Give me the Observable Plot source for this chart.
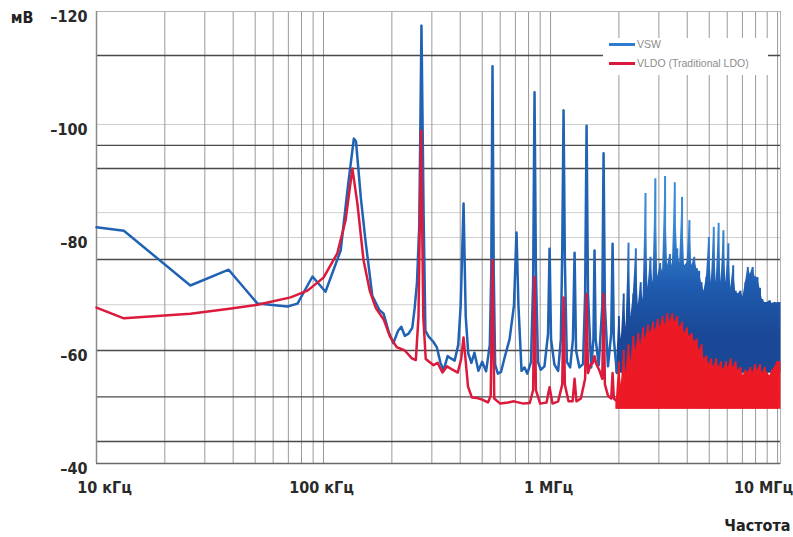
<!DOCTYPE html>
<html><head><meta charset="utf-8">
<script src="https://cdn.jsdelivr.net/npm/d3@7"></script>
<script src="https://cdn.jsdelivr.net/npm/@observablehq/plot@0.6"></script>
<style>
body{margin:0;background:#fff;}
#wrap{position:relative;width:793px;height:537px;overflow:hidden;}
#wrap svg text{font-stretch:condensed;}
#legend{position:absolute;left:603px;top:38px;width:165px;height:37px;background:#fff;font-family:"Liberation Sans",Arial,sans-serif;font-size:10.5px;color:#8c8c8c;}
#legend .ln{position:absolute;left:6px;width:26px;height:2.5px;}
#legend .tx{position:absolute;left:34px;line-height:12px;white-space:nowrap;}
</style></head><body>
<div id="wrap">
<div id="legend">
<div class="ln" style="top:5px;background:#2f7bd0"></div><div class="tx" style="top:0px">VSW</div>
<div class="ln" style="top:24px;background:#d8183c"></div><div class="tx" style="top:19px">VLDO (Traditional LDO)</div>
</div>
</div>
<script>
// ticks (frequency in kHz, level in мВ units as labelled)
const xTickValues = [10, 100, 1000, 10000];
const xTickLabels = ["10 кГц", "100 кГц", "1 МГц", "10 МГц"];
const yTickValues = [-120, -100, -80, -60, -40];
const gridFreqs = [20,30,40,50,60,70,80,90,100,200,300,400,500,600,700,800,900,1000,2000,3000,4000,5000,6000,7000,8000,9000,10000];
const gridDark = [-112.2, -96.3, -92.2, -76.1, -60, -51.8, -43.9];
const gridLight = [-100, -84.4, -80, -68.1];

// VSW (blue) trace up to ~2 MHz, [kHz, value]
const vswLine = [
[10,-81.8],[13.2,-81.2],[25.9,-71.5],[38.2,-74.3],[51.2,-68.3],[69.4,-67.8],[76.8,-68.3],[89.4,-73.1],[102,-70.4],[119,-77.7],
[128,-89],[136,-97.5],[139,-97],[146,-87],[153,-79.5],[164,-69.7],[176,-67.2],[184,-66.5],[194,-63.2],[203,-61.3],[213,-63.5],
[220,-64.2],[228,-62.6],[237,-63],[246,-64],[252,-67.5],[258,-72],[264,-82],[270,-117.5],[276,-84],[281,-63.5],[290,-62.5],
[305,-61.5],[316,-60.5],[327,-57.9],[338,-56.5],[352,-59],[364,-58.6],[378,-58.2],[392,-61],[402,-68],[413.8,-86],[423,-66],
[434,-59.5],[448,-57.8],[462,-59.6],[481,-56.4],[500,-58],[520,-56.3],[540,-61],[548,-74],[555,-110.3],[562,-74],[570,-57.5],
[586,-55.9],[605,-56.2],[628,-58.8],[660,-62],[690,-68],[708,-80.9],[722,-68],[745,-56.4],[768,-57],[790,-55.9],[820,-58],
[838,-72],[850,-105.7],[862,-74],[880,-58],[905,-56.6],[940,-57.2],[975,-63],[990,-78],[1005,-62],[1040,-57.5],[1080,-56.4],
[1110,-62],[1126,-78],[1141,-102.5],[1156,-76],[1180,-58],[1220,-57],[1255,-62],[1276,-77.3],[1295,-60],[1340,-57],[1390,-57.6],
[1420,-70],[1441,-99.8],[1462,-70],[1510,-57],[1545,-62],[1562,-77.7],[1580,-62],[1630,-57.4],[1690,-68],[1712,-94.9],[1735,-68],
[1790,-57.2],[1850,-63],[1876,-78.9],[1900,-62],[1960,-56]
];

// VLDO (red) trace up to ~2 MHz, [kHz, value]
const vldoLine = [
[10,-67.6],[13.2,-65.7],[25.9,-66.5],[38.5,-67.4],[51.2,-68.1],[71.6,-69.4],[85,-70.6],[100,-72.9],[115,-77.2],[125,-83],
[134,-92.2],[141,-86],[150,-76],[160,-70.5],[170,-67.5],[184,-65.5],[196,-62.5],[210,-60.6],[228,-60],[245,-58.6],[255,-58.3],
[262,-66],[269,-98.9],[275,-66],[282,-58.5],[292,-58],[305,-57.4],[318,-57.8],[334,-56.1],[350,-57.2],[370,-56.6],[390,-56.1],
[404,-58.5],[413.8,-62.3],[422,-58.5],[433,-53.6],[450,-51.7],[475,-51.6],[500,-51.3],[530,-50.8],[545,-52],[555,-76],[565,-51.5],
[600,-50.6],[650,-50.8],[690,-51],[760,-50.6],[810,-50.7],[838,-53],[850,-73],[862,-53],[900,-50.6],[960,-50.8],[990,-53.5],
[1020,-50.6],[1080,-51],[1126,-54],[1141,-69.4],[1156,-54],[1200,-51],[1250,-51],[1276,-55],[1300,-51],[1360,-51.5],[1420,-55],
[1441,-70],[1462,-56],[1500,-57.5],[1535,-57.8],[1562,-59],[1590,-57.6],[1640,-56.5],[1690,-55],[1712,-70],[1735,-54],[1790,-52],
[1850,-51.5],[1876,-56],[1900,-51.5],[1960,-51]
];

// dense spectrum region 2–10 MHz: sampled frequencies (kHz) and the peak level of each trace there
const denseFreqs = [1950,2000,2050,2100,2150,2205,2260,2315,2375,2435,2495,2555,2620,2685,2755,2825,2895,2965,3040,3115,
3195,3275,3355,3440,3525,3615,3705,3795,3890,3990,4090,4190,4295,4405,4515,4625,4740,4860,4980,5105,
5235,5365,5500,5635,5775,5920,6070,6220,6375,6535,6700,6865,7040,7215,7395,7580,7770,7965,8160,8365,
8575,8790,9010,9235,9465,9700,9945,10190];
const vswDenseTop = [-57,-66,-62,-70,-64,-79,-66,-70,-78,-68,-72,-69,-87.8,-71,-76.5,-72,-90.4,-73,-75.4,-74,
-90.8,-75,-77,-75,-89.7,-78,-75.5,-87.1,-75,-75.5,-83,-75,-76.5,-74.5,-74,-72,-70.5,-73,-80,-72,
-81.8,-72,-82.5,-72,-81.2,-72,-78.9,-71,-75,-70.5,-70,-70.5,-69.5,-72,-74.7,-73.5,-74.7,-73,-72.9,-71,
-69,-68.5,-68.5,-68.8,-68.3,-68.5,-68.4,-68.5];
const vldoDenseTop = [-51.5,-58,-54,-60,-56,-61,-58,-62.5,-60,-63,-61,-64,-62,-64.5,-63,-65,-63.5,-65.5,-64,-66,
-64.5,-66.5,-65,-66.5,-65,-66,-64,-65,-63,-64,-62.5,-63,-61.5,-62,-60,-61,-58.5,-59,-57.5,-58.5,
-57,-58.5,-57,-58,-56.5,-58,-57,-58.5,-57,-58,-56.5,-57,-55.5,-56.5,-56,-57,-56,-57.5,-56.5,-57.5,
-56,-57,-56,-55.5,-56.5,-57,-58,-58];
const denseIdx = denseFreqs.map((_, i) => i);

const font = '"DejaVu Sans","Liberation Sans",Arial,sans-serif';
const blue = "#2063b4", red = "#dc1a3c", redBright = "#ec1a26";
const lab = {fontSize: 16, fontWeight: "bold", fill: "#2a2a2a", lineAnchor: "middle"};
const dx = i => denseFreqs[i];

const chart = Plot.plot({
  width: 793, height: 537,
  marginLeft: 96, marginRight: 13, marginTop: 11, marginBottom: 74,
  style: {fontFamily: font, background: "transparent", overflow: "visible"},
  x: {type: "log", domain: [10, 10300], axis: null},
  y: {domain: [-120, -40], reverse: true, axis: null},
  marks: [
    Plot.ruleY(gridLight, {stroke: "#cfcfcf", strokeWidth: 1}),
    Plot.ruleX(gridFreqs, {stroke: "#9a9a9a", strokeWidth: 1}),
    Plot.ruleY(gridDark, {stroke: "#4a4a4a", strokeWidth: 1.4}),
    Plot.frame({stroke: "#b5b5b5"}),
    Plot.ruleX([10], {stroke: "#8a8a8a", strokeWidth: 1.5}),
    Plot.ruleY([-40], {stroke: "#6a6a6a", strokeWidth: 1.5}),
    // blue
    Plot.areaY(denseIdx, {x: dx, y1: -56, y2: i => vswDenseTop[i], fill: "url(#vswGrad)"}),
    Plot.ruleX(denseIdx, {x: dx, y1: -56, y2: i => vswDenseTop[i], stroke: "url(#vswGrad)", strokeWidth: 2}),
    Plot.line(vswLine, {x: d => d[0], y: d => d[1], stroke: blue, strokeWidth: 2.5}),
    // red
    Plot.areaY(denseIdx, {x: dx, y1: -49.6, y2: i => vldoDenseTop[i], fill: redBright}),
    Plot.ruleX(denseIdx, {x: dx, y1: -49.6, y2: i => vldoDenseTop[i], stroke: redBright, strokeWidth: 2}),
    Plot.line(vldoLine, {x: d => d[0], y: d => d[1], stroke: red, strokeWidth: 2.5}),
    // labels
    Plot.text(yTickValues, {y: d => d, frameAnchor: "left", dx: -9, dy: 5, textAnchor: "end",
      text: d => "\u2013" + Math.abs(d), ...lab}),
    Plot.text([0], {x: i => xTickValues[i], frameAnchor: "bottom", dx: 8, dy: 24, text: i => xTickLabels[i], ...lab}),
    Plot.text([1, 2], {x: i => xTickValues[i], frameAnchor: "bottom", dx: -2, dy: 24, text: i => xTickLabels[i], ...lab}),
    Plot.text([3], {x: i => xTickValues[i], frameAnchor: "bottom", dx: -14, dy: 24, text: i => xTickLabels[i], ...lab}),
    Plot.text(["Частота"], {frameAnchor: "bottom-right", dx: 10, dy: 62, textAnchor: "end", text: d => d, ...lab, fill: "#222"}),
    Plot.text(["мВ"], {frameAnchor: "top-left", dx: -63, dy: 6, textAnchor: "end", text: d => d, ...lab, fill: "#222"})
  ]
});
// vertical colour gradient for the dense blue region (dark body, lighter tips)
const ys = chart.scale("y");
const ns = "http://www.w3.org/2000/svg";
const defs = document.createElementNS(ns, "defs");
const g = document.createElementNS(ns, "linearGradient");
g.setAttribute("id", "vswGrad"); g.setAttribute("gradientUnits", "userSpaceOnUse");
g.setAttribute("x1", 0); g.setAttribute("x2", 0);
g.setAttribute("y1", ys.apply(-63)); g.setAttribute("y2", ys.apply(-82));
[["0", "#1a4896"], ["0.45", "#1f5cb0"], ["1", "#3b8ad6"]].forEach(([o, c]) => {
  const s = document.createElementNS(ns, "stop"); s.setAttribute("offset", o); s.setAttribute("stop-color", c); g.appendChild(s);
});
defs.appendChild(g); chart.insertBefore(defs, chart.firstChild);

const wrap = document.getElementById("wrap");
wrap.insertBefore(chart, wrap.firstChild);
chart.style.position = "absolute"; chart.style.left = "0"; chart.style.top = "0";
</script>
</body></html>
